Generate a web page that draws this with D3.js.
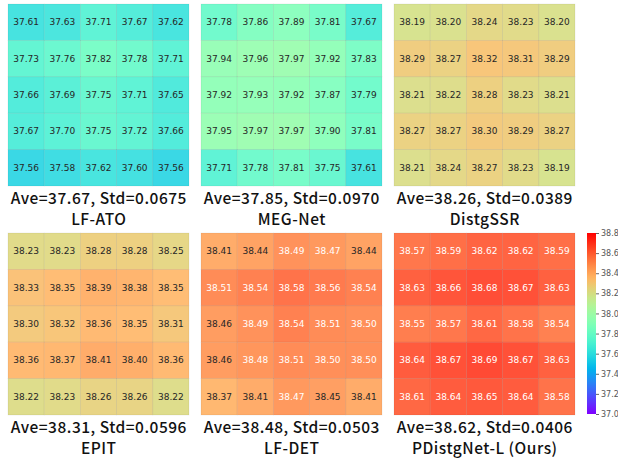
<!DOCTYPE html>
<html><head><meta charset="utf-8">
<script src="https://cdn.jsdelivr.net/npm/d3@7"></script>
<style>body{margin:0;background:#fff}svg{display:block}</style>
</head><body>
<svg id="c" width="618" height="459"></svg>
<script>
const methods = ["LF-ATO","MEG-Net","DistgSSR","EPIT","LF-DET","PDistgNet-L (Ours)"];
const stats = ["Ave=37.67, Std=0.0675","Ave=37.85, Std=0.0970","Ave=38.26, Std=0.0389","Ave=38.31, Std=0.0596","Ave=38.48, Std=0.0503","Ave=38.62, Std=0.0406"];
const lfato = [[37.61,37.63,37.71,37.67,37.62],[37.73,37.76,37.82,37.78,37.71],[37.66,37.69,37.75,37.71,37.65],[37.67,37.70,37.75,37.72,37.66],[37.56,37.58,37.62,37.60,37.56]];
const megnet = [[37.78,37.86,37.89,37.81,37.67],[37.94,37.96,37.97,37.92,37.83],[37.92,37.93,37.92,37.87,37.79],[37.95,37.97,37.97,37.90,37.81],[37.71,37.78,37.81,37.75,37.61]];
const distgssr = [[38.19,38.20,38.24,38.23,38.20],[38.29,38.27,38.32,38.31,38.29],[38.21,38.22,38.28,38.23,38.21],[38.27,38.27,38.30,38.29,38.27],[38.21,38.24,38.27,38.23,38.19]];
const epit = [[38.23,38.23,38.28,38.28,38.25],[38.33,38.35,38.39,38.38,38.35],[38.30,38.32,38.36,38.35,38.31],[38.36,38.37,38.41,38.40,38.36],[38.22,38.23,38.26,38.26,38.22]];
const lfdet = [[38.41,38.44,38.49,38.47,38.44],[38.51,38.54,38.58,38.56,38.54],[38.46,38.49,38.54,38.51,38.50],[38.46,38.48,38.51,38.50,38.50],[38.37,38.41,38.47,38.45,38.41]];
const pdistg = [[38.57,38.59,38.62,38.62,38.59],[38.63,38.66,38.68,38.67,38.63],[38.55,38.57,38.61,38.58,38.54],[38.64,38.67,38.69,38.67,38.63],[38.61,38.64,38.65,38.64,38.58]];
const grids = [lfato, megnet, distgssr, epit, lfdet, pdistg];
const vmin = 37.0, vmax = 38.8;
const cbTicks = [37.0,37.2,37.4,37.6,37.8,38.0,38.2,38.4,38.6,38.8];

// matplotlib "rainbow"
function rainbowRGB(t){
  t = Math.max(0, Math.min(1, t));
  const r = Math.min(1, Math.abs(2*t - 0.5));
  const g = Math.sin(Math.PI*t);
  const b = Math.cos(Math.PI*t/2);
  return [r,g,b];
}
function lum(rgb){
  const f = c => c <= 0.03928 ? c/12.92 : Math.pow((c+0.055)/1.055, 2.4);
  return 0.2126*f(rgb[0]) + 0.7152*f(rgb[1]) + 0.0722*f(rgb[2]);
}
const norm = d3.scaleLinear().domain([vmin, vmax]).range([0,1]);
const toCss = (rgb) => `rgb(${Math.round(rgb[0]*255)},${Math.round(rgb[1]*255)},${Math.round(rgb[2]*255)})`;

const svg = d3.select("#c");
const colX = [8, 201, 394], rowY = [4, 233];
const pw = 181, ph = 182;
const idx = d3.range(5);

grids.forEach((grid, k) => {
  const x0 = colX[k % 3], y0 = rowY[Math.floor(k/3)];
  const xs = d3.scaleBand().domain(idx).range([x0, x0+pw]);
  const ys = d3.scaleBand().domain(idx).range([y0, y0+ph]);
  const g = svg.append("g");
  const cells = [];
  grid.forEach((row, i) => row.forEach((v, j) => cells.push({i, j, v})));
  g.selectAll("rect").data(cells).join("rect")
    .attr("x", d => xs(d.j)).attr("y", d => ys(d.i))
    .attr("width", xs.bandwidth()).attr("height", ys.bandwidth())
    .attr("fill", d => toCss(rainbowRGB(norm(d.v))))
    .attr("fill-opacity", 0.88)
    .attr("stroke", "rgba(0,0,0,0.07)").attr("stroke-width", 0.8);
  g.selectAll("text").data(cells).join("text")
    .attr("x", d => xs(d.j) + xs.bandwidth()/2)
    .attr("y", d => ys(d.i) + ys.bandwidth()/2)
    .attr("text-anchor", "middle").attr("dominant-baseline", "central")
    .attr("font-family", "DejaVu Sans").attr("font-size", 9)
    .attr("fill", d => lum(rainbowRGB(norm(d.v))) > 0.408 ? "#262626" : "#ffffff")
    .text(d => d.v.toFixed(2));
  svg.append("text").attr("x", x0 + pw/2 + 0.3).attr("y", y0 + ph + 18)
    .attr("text-anchor", "middle").attr("font-family", "Noto Sans CJK SC")
    .attr("font-weight", 500).attr("font-size", 15.5).attr("letter-spacing", 0.5).attr("fill", "#111")
    .text(stats[k]);
  svg.append("text").attr("x", x0 + pw/2 + 0.3).attr("y", y0 + ph + 39)
    .attr("text-anchor", "middle").attr("font-family", "Noto Sans CJK SC")
    .attr("font-weight", 500).attr("font-size", 15.5).attr("letter-spacing", 0.5).attr("fill", "#111")
    .text(methods[k]);
});

// colorbar
const cbX = 587, cbW = 9, cbTop = 233, cbBot = 414;
const cy = d3.scaleLinear().domain([vmin, vmax]).range([cbBot, cbTop]);
const defs = svg.append("defs");
const grad = defs.append("linearGradient").attr("id","cb").attr("x1",0).attr("y1",1).attr("x2",0).attr("y2",0);
d3.range(0, 1.0001, 0.02).forEach(t => grad.append("stop").attr("offset", t).attr("stop-color", toCss(rainbowRGB(t))));
svg.append("rect").attr("x", cbX).attr("y", cbTop).attr("width", cbW).attr("height", cbBot-cbTop).attr("fill", "url(#cb)");
const ax = svg.append("g").attr("transform", `translate(${cbX+cbW},0)`)
  .call(d3.axisRight(cy).tickValues(cbTicks).tickFormat(d3.format(".1f")).tickSize(3).tickPadding(2));
ax.select(".domain").remove();
ax.selectAll("line").attr("stroke", "#666");
ax.selectAll("text").attr("font-family", "DejaVu Sans").attr("font-size", 8).attr("fill", "#555");
</script>
</body></html>
